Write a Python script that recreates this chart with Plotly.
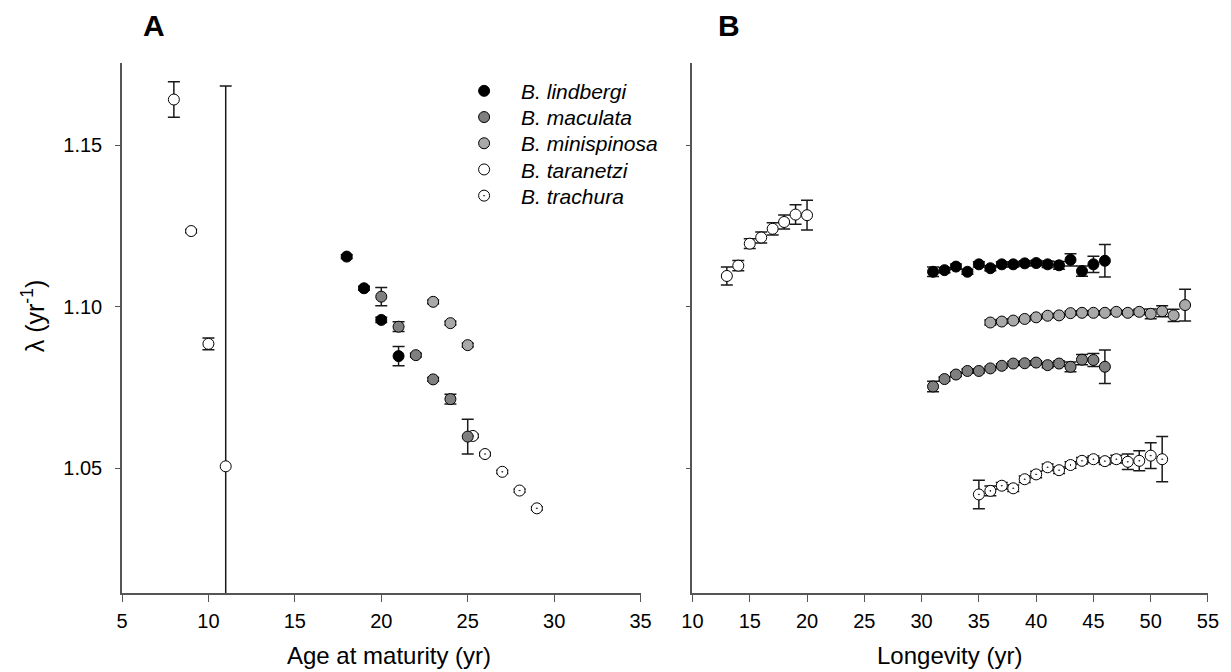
import plotly.graph_objects as go

# ---------------- Panel A: age at maturity ----------------
a_lind_x = [18, 19, 20, 21]
a_lind_y = [1.1155, 1.1057, 1.0959, 1.0847]
a_lind_e = [0.0006, 0.0006, 0.0008, 0.0030]

a_macu_x = [20, 21, 22, 23, 24, 25]
a_macu_y = [1.1031, 1.0938, 1.0850, 1.0775, 1.0714, 1.0598]
a_macu_e = [0.0028, 0.0015, 0.0006, 0.0006, 0.0015, 0.0054]

a_mini_x = [23, 24, 25]
a_mini_y = [1.1015, 1.0949, 1.0881]
a_mini_e = [0.0006, 0.0006, 0.0006]

a_tara_x = [8, 9, 10, 11]
a_tara_y = [1.1641, 1.1234, 1.0885, 1.0506]
a_tara_e = [0.0055, 0.0005, 0.0018, 0.1177]

a_trac_x = [25.3, 26, 27, 28, 29]
a_trac_y = [1.0600, 1.0544, 1.0489, 1.0431, 1.0376]
a_trac_e = [0.0005, 0.0005, 0.0005, 0.0005, 0.0005]

# ---------------- Panel B: longevity ----------------
b_tara_x = [13, 14, 15, 16, 17, 18, 19, 20]
b_tara_y = [1.1095, 1.1127, 1.1195, 1.1214, 1.1241, 1.1262, 1.1285, 1.1283]
b_tara_e = [0.0028, 0.0016, 0.0015, 0.0017, 0.0019, 0.0022, 0.0030, 0.0046]

b_lind_x = list(range(31, 47))
b_lind_y = [1.1108, 1.1113, 1.1124, 1.1108, 1.1131, 1.1119, 1.1131, 1.1131,
            1.1134, 1.1135, 1.1131, 1.1128, 1.1145, 1.1110, 1.1131, 1.1142]
b_lind_e = [0.0015, 0.0008, 0.0008, 0.0008, 0.0008, 0.0008, 0.0008, 0.0008,
            0.0008, 0.0008, 0.0010, 0.0012, 0.0019, 0.0016, 0.0025, 0.0050]

b_mini_x = list(range(36, 54))
b_mini_y = [1.0951, 1.0954, 1.0957, 1.0962, 1.0967, 1.0972, 1.0973, 1.0980, 1.0981,
            1.0981, 1.0981, 1.0984, 1.0981, 1.0984, 1.0978, 1.0986, 1.0973, 1.1005]
b_mini_e = [0.0008, 0.0006, 0.0006, 0.0006, 0.0006, 0.0006, 0.0006, 0.0006, 0.0006,
            0.0006, 0.0006, 0.0006, 0.0006, 0.0008, 0.0015, 0.0017, 0.0019, 0.0049]

b_macu_x = list(range(31, 47))
b_macu_y = [1.0753, 1.0776, 1.0790, 1.0801, 1.0801, 1.0809, 1.0817, 1.0824,
            1.0825, 1.0827, 1.0819, 1.0824, 1.0814, 1.0836, 1.0835, 1.0814]
b_macu_e = [0.0016, 0.0006, 0.0006, 0.0006, 0.0006, 0.0006, 0.0006, 0.0006,
            0.0006, 0.0006, 0.0008, 0.0008, 0.0015, 0.0016, 0.0020, 0.0052]

b_trac_x = list(range(35, 52))
b_trac_y = [1.0419, 1.0430, 1.0446, 1.0438, 1.0466, 1.0481, 1.0503, 1.0494, 1.0510,
            1.0523, 1.0528, 1.0522, 1.0528, 1.0520, 1.0523, 1.0539, 1.0528]
b_trac_e = [0.0044, 0.0015, 0.0010, 0.0010, 0.0010, 0.0010, 0.0010, 0.0010, 0.0010,
            0.0010, 0.0010, 0.0010, 0.0012, 0.0024, 0.0031, 0.0040, 0.0070]

species = ["B. lindbergi", "B. maculata", "B. minispinosa", "B. taranetzi", "B. trachura"]
fills = ["#000000", "#7f7f7f", "#a9a9a9", "#ffffff", "#ffffff"]
symbols = ["circle", "circle", "circle", "circle", "circle-dot"]

panel_a = [(a_lind_x, a_lind_y, a_lind_e), (a_macu_x, a_macu_y, a_macu_e),
           (a_mini_x, a_mini_y, a_mini_e), (a_tara_x, a_tara_y, a_tara_e),
           (a_trac_x, a_trac_y, a_trac_e)]
panel_b = [(b_lind_x, b_lind_y, b_lind_e), (b_macu_x, b_macu_y, b_macu_e),
           (b_mini_x, b_mini_y, b_mini_e), (b_tara_x, b_tara_y, b_tara_e),
           (b_trac_x, b_trac_y, b_trac_e)]

ERR_COLOR = "#1a1a1a"
FONT = "Liberation Sans, Arial, sans-serif"
MSIZE = 11

# plot-area pixel geometry (used only to place legend / annotations)
L, R, T, B, W, H = 122, 20, 63, 79, 1231, 672
PW, PH = W - L - R, H - T - B


def px2paper(px, py):
    return (px - L) / PW, (H - B - py) / PH


legend_names = ["legend", "legend2", "legend3", "legend4", "legend5"]

fig = go.Figure()

draw_order = [4, 0, 1, 2, 3]  # trachura behind the others in panel A
for i in draw_order:
    x, y, e = panel_a[i]
    fig.add_trace(go.Scatter(
        x=x, y=y, mode="markers", name="<i>" + species[i] + "</i>",
        legend=legend_names[i],
        marker=dict(symbol=symbols[i], size=MSIZE, color=fills[i],
                    line=dict(color="#000000", width=1)),
        error_y=dict(type="data", array=e, visible=True, color=ERR_COLOR,
                     thickness=1.5, width=6),
        xaxis="x", yaxis="y", showlegend=True))

for i in range(5):
    x, y, e = panel_b[i]
    fig.add_trace(go.Scatter(
        x=x, y=y, mode="markers", name=species[i],
        marker=dict(symbol=symbols[i], size=MSIZE, color=fills[i],
                    line=dict(color="#000000", width=1)),
        error_y=dict(type="data", array=e, visible=True, color=ERR_COLOR,
                     thickness=1.5, width=6),
        xaxis="x2", yaxis="y2", showlegend=False))

yr = [1.0114, 1.1754]
axis_common = dict(showgrid=False, zeroline=False, showline=True, linecolor="#555555",
                   linewidth=1.5, ticks="outside", tickcolor="#555555", tickwidth=1.2,
                   tickfont=dict(size=20, color="#000000", family=FONT))

fig.update_layout(
    width=W, height=H,
    margin=dict(l=L, r=R, t=T, b=B),
    paper_bgcolor="white", plot_bgcolor="white",
    font=dict(family=FONT, color="#000000"),
    xaxis=dict(domain=[0, 0.4775], range=[5, 35], tickvals=[5, 10, 15, 20, 25, 30, 35],
               ticklen=7, ticklabelstandoff=2, **axis_common),
    yaxis=dict(domain=[0, 1], range=yr, tickvals=[1.05, 1.10, 1.15],
               ticktext=["1.05", "1.10", "1.15"], ticklen=5, ticklabelstandoff=9,
               **axis_common),
    xaxis2=dict(domain=[0.5253, 1], range=[10, 55],
                tickvals=[10, 15, 20, 25, 30, 35, 40, 45, 50, 55], ticklen=7,
                ticklabelstandoff=2, anchor="y2", **axis_common),
    yaxis2=dict(domain=[0, 1], range=yr, tickvals=[1.05, 1.10, 1.15], ticklen=5,
                showticklabels=False, anchor="x2", **axis_common),
    showlegend=True,
)

# one legend box per species so the row spacing matches the reference
row_centers = [91.7, 117.9, 144.1, 170.3, 196.5]
leg_layout = {}
for k, name in enumerate(legend_names):
    lx, ly = px2paper(448, row_centers[k] - 21)
    leg_layout[name] = dict(x=lx, y=ly, xanchor="left", yanchor="top",
                            bgcolor="rgba(0,0,0,0)", borderwidth=0,
                            font=dict(size=21, family=FONT, color="#000000"),
                            itemwidth=64)
fig.update_layout(**leg_layout)

anns = []
for text, px, py, size, angle in [
    ("<b>A</b>", 154, 26, 30, 0),
    ("<b>B</b>", 731, 26, 30, 0),
    ("Age at maturity (yr)", 390, 655, 24, 0),
    ("Longevity (yr)", 952, 655, 24, 0),
    ("λ (yr<sup>-1</sup>)", 33, 316, 25, -90),
]:
    xp, yp = px2paper(px, py)
    anns.append(dict(text=text, x=xp, y=yp, xref="paper", yref="paper",
                     showarrow=False, textangle=angle,
                     font=dict(size=size, family=FONT, color="#000000"),
                     xanchor="center", yanchor="middle"))
fig.update_layout(annotations=anns)

fig.write_html("out.html")
